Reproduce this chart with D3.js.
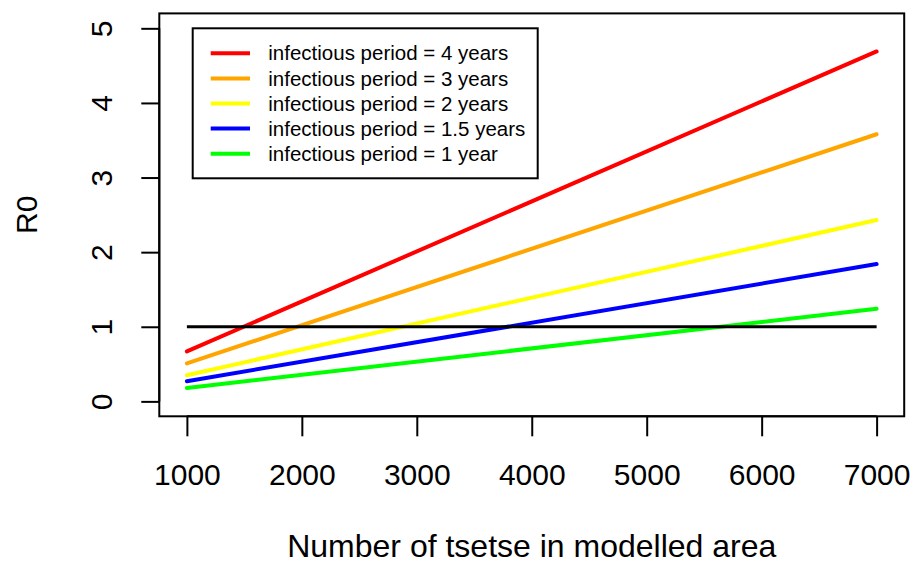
<!DOCTYPE html>
<html>
<head>
<meta charset="utf-8">
<script src="https://cdn.jsdelivr.net/npm/d3@7"></script>
<style>
  body { margin: 0; background: #fff; }
  svg { display: block; font-family: "Liberation Sans", Arial, sans-serif; }
</style>
</head>
<body>
<div id="chart"></div>
<script>
// tsetse numbers at which each curve is read (line ends)
var tsetse = [1000, 7000]

var periods = ["4 years", "3 years", "2 years", "1.5 years", "1 year"]
var colours = ["#ff0000", "#ffa500", "#ffff00", "#0000ff", "#00ff00"]

var r0Red = [0.67, 4.69]
var r0Orange = [0.51, 3.58]
var r0Yellow = [0.35, 2.43]
var r0Blue = [0.27, 1.84]
var r0Green = [0.18, 1.24]

var xTicks = [1000, 2000, 3000, 4000, 5000, 6000, 7000]
var yTicks = [0, 1, 2, 3, 4, 5]
var threshold = 1

var width = 913
var height = 565

var series = [r0Red, r0Orange, r0Yellow, r0Blue, r0Green]

// R pads the data range by 4% on each side
var x = d3.scaleLinear()
    .domain([760, 7240])
    .range([159.3, 904.2])

var y = d3.scaleLinear()
    .domain([-0.2, 5.2])
    .range([416.3, 13.4])

var svg = d3.select("#chart").append("svg")
    .attr("width", width)
    .attr("height", height)

var line = d3.line()
    .x(function(d) { return x(d[0]) })
    .y(function(d) { return y(d[1]) })

svg.append("g")
    .selectAll("path")
    .data(series)
    .enter().append("path")
        .attr("fill", "none")
        .attr("stroke", function(d, i) { return colours[i] })
        .attr("stroke-width", 4)
        .attr("stroke-linecap", "round")
        .attr("d", function(d) { return line(tsetse.map(function(t, j) { return [t, d[j]] })) })

// R0 = 1 reference line
svg.append("path")
    .attr("fill", "none")
    .attr("stroke", "#000")
    .attr("stroke-width", 3)
    .attr("d", line([[tsetse[0], threshold], [tsetse[1], threshold]]))

// plot box
svg.append("rect")
    .attr("x", x.range()[0])
    .attr("y", y.range()[1])
    .attr("width", x.range()[1] - x.range()[0])
    .attr("height", y.range()[0] - y.range()[1])
    .attr("fill", "none")
    .attr("stroke", "#000")
    .attr("stroke-width", 2)

var xAxis = svg.append("g")
    .attr("transform", "translate(0," + y.range()[0] + ")")
    .call(d3.axisBottom(x).tickValues(xTicks).tickSize(20).tickFormat(d3.format("d")))

xAxis.select(".domain")
    .attr("d", "M" + x(xTicks[0]) + ",0H" + x(xTicks[xTicks.length - 1]))
    .attr("stroke-width", 2)
xAxis.selectAll(".tick line").attr("stroke-width", 2)
xAxis.selectAll(".tick text")
    .attr("y", 68.5)
    .attr("dy", 0)
    .style("font-size", "30px")
    .style("font-family", "'Liberation Sans', Arial, sans-serif")
    .attr("fill", "#000")

var yAxis = svg.append("g")
    .attr("transform", "translate(" + x.range()[0] + ",0)")
    .call(d3.axisLeft(y).tickValues(yTicks).tickSize(18).tickFormat(d3.format("d")))

yAxis.select(".domain")
    .attr("d", "M0," + y(yTicks[0]) + "V" + y(yTicks[yTicks.length - 1]))
    .attr("stroke-width", 2)
yAxis.selectAll(".tick line").attr("stroke-width", 2)
yAxis.selectAll(".tick text")
    .attr("x", null)
    .attr("dy", 0)
    .attr("text-anchor", "middle")
    .attr("transform", "translate(-47,0) rotate(-90)")
    .style("font-size", "30px")
    .style("font-family", "'Liberation Sans', Arial, sans-serif")
    .attr("fill", "#000")

// axis titles
svg.append("text")
    .attr("x", (x.range()[0] + x.range()[1]) / 2)
    .attr("y", 557)
    .attr("text-anchor", "middle")
    .style("font-size", "32px")
    .text("Number of tsetse in modelled area")

svg.append("text")
    .attr("transform", "translate(37," + (y.range()[0] + y.range()[1]) / 2 + ") rotate(-90)")
    .attr("text-anchor", "middle")
    .style("font-size", "30px")
    .text("R0")

// legend
var legend = svg.append("g")
    .attr("transform", "translate(192.7,28.3)")

legend.append("rect")
    .attr("width", 345)
    .attr("height", 150)
    .attr("fill", "#fff")
    .attr("stroke", "#000")
    .attr("stroke-width", 2)

var rows = legend.selectAll(".legendRow")
    .data(periods)
    .enter().append("g")
        .attr("class", "legendRow")
        .attr("transform", function(d, i) { return "translate(0," + (25 + i * 25.1) + ")" })

rows.append("line")
    .attr("x1", 18)
    .attr("x2", 57.3)
    .attr("stroke", function(d, i) { return colours[i] })
    .attr("stroke-width", 4)

rows.append("text")
    .attr("x", 75.6)
    .attr("dy", "0.35em")
    .style("font-size", "20.5px")
    .text(function(d) { return "infectious period = " + d })
</script>
</body>
</html>
